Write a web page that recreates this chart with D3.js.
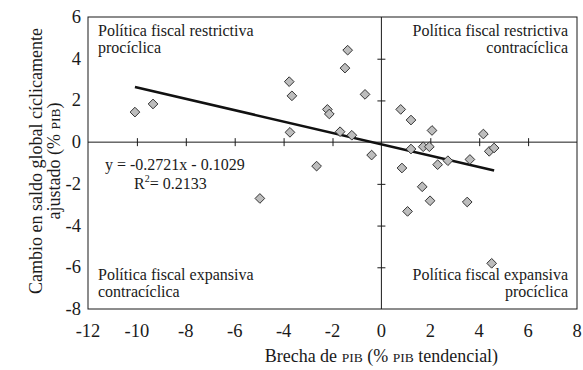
<!DOCTYPE html>
<html>
<head>
<meta charset="utf-8">
<script src="https://cdn.jsdelivr.net/npm/d3@7"></script>
<style>
  html, body { margin: 0; padding: 0; background: #fff; }
</style>
</head>
<body>
<div id="chart"></div>
<script>
// Brecha de PIB (x) vs. cambio en saldo global cíclicamente ajustado (y)
const gapValues = [
  -10.08, -9.34, -4.97, -3.77, -3.66, -3.74, -2.65, -2.21, -2.13, -1.69, -1.38, -1.49, -1.21, -0.67, -0.40,
  0.79, 1.21, 2.07, 4.17, 1.21, 1.71, 1.96, 4.41, 4.61, 0.84, 2.30, 2.72, 3.62, 1.67, 1.99, 3.51, 1.07, 4.51
];
const balanceValues = [
  1.44, 1.83, -2.70, 2.90, 2.22, 0.47, -1.15, 1.57, 1.35, 0.50, 4.41, 3.55, 0.33, 2.29, -0.62,
  1.57, 1.06, 0.56, 0.39, -0.33, -0.22, -0.22, -0.44, -0.28, -1.24, -1.08, -0.89, -0.83, -2.14, -2.81, -2.87, -3.32, -5.81
];

// Regression line y = slope * x + intercept
const slope = -0.2721;
const intercept = -0.1029;
const rSquared = 0.2133;

const xTicks = [-12, -10, -8, -6, -4, -2, 0, 2, 4, 6, 8];
const yTicks = [6, 4, 2, 0, -2, -4, -6, -8];

const quadrantLabels = [
  { lines: ["Política fiscal restrictiva", "procíclica"], corner: "tl" },
  { lines: ["Política fiscal restrictiva", "contracíclica"], corner: "tr" },
  { lines: ["Política fiscal expansiva", "contracíclica"], corner: "bl" },
  { lines: ["Política fiscal expansiva", "procíclica"], corner: "br" }
];

const W = 583, H = 370;
const margin = { left: 88, right: 6, top: 17, bottom: 61 };
const serif = "'Liberation Serif'";

const svg = d3.select("#chart").append("svg")
  .attr("width", W).attr("height", H);

const x = d3.scaleLinear().domain([-12, 8]).range([margin.left, W - margin.right]);
const y = d3.scaleLinear().domain([-8, 6]).range([H - margin.bottom, margin.top]);

const ink = "#1a1a1a";

// plot frame
svg.append("rect")
  .attr("x", x(-12)).attr("y", y(6))
  .attr("width", x(8) - x(-12)).attr("height", y(-8) - y(6))
  .attr("fill", "none").attr("stroke", ink).attr("stroke-width", 1);

// axes crossing at the origin, with ticks across the lines
const xAxis = d3.axisBottom(x).tickValues(xTicks.filter(v => v > -12 && v < 8 && v !== 0))
  .tickSize(8).tickFormat("");
svg.append("g").attr("transform", `translate(0,${y(0) - 4})`).call(xAxis)
  .call(g => g.select(".domain").remove())
  .call(g => g.selectAll("line").attr("stroke", ink));
svg.append("line")
  .attr("x1", x(-12)).attr("x2", x(8)).attr("y1", y(0)).attr("y2", y(0))
  .attr("stroke", ink).attr("stroke-width", 1);

const yAxis = d3.axisRight(y).tickValues(yTicks.filter(v => v > -8 && v < 6 && v !== 0))
  .tickSize(8).tickFormat("");
svg.append("g").attr("transform", `translate(${x(0) - 4},0)`).call(yAxis)
  .call(g => g.select(".domain").remove())
  .call(g => g.selectAll("line").attr("stroke", ink));
svg.append("line")
  .attr("x1", x(0)).attr("x2", x(0)).attr("y1", y(6)).attr("y2", y(-8))
  .attr("stroke", ink).attr("stroke-width", 1);

// tick labels outside the frame (plain hyphen for negatives)
svg.append("g").selectAll("text").data(xTicks).join("text")
  .attr("x", d => x(d)).attr("y", y(-8) + 28)
  .attr("text-anchor", "middle").attr("font-size", 18.5).attr("fill", ink)
  .style("font-family", serif)
  .text(d => String(d));
svg.append("g").selectAll("text").data(yTicks).join("text")
  .attr("x", x(-12) - 7).attr("y", d => y(d) + 6)
  .attr("text-anchor", "end").attr("font-size", 18.5).attr("fill", ink)
  .style("font-family", serif)
  .text(d => String(d));

// regression line over the data range
const [xMin, xMax] = d3.extent(gapValues);
svg.append("line")
  .attr("x1", x(xMin)).attr("y1", y(slope * xMin + intercept))
  .attr("x2", x(xMax)).attr("y2", y(slope * xMax + intercept))
  .attr("stroke", "#111").attr("stroke-width", 2.6);

// diamond markers
const diamond = d3.symbol().type(d3.symbolDiamond2).size(60);
svg.append("g").selectAll("path").data(gapValues.map((g, i) => [g, balanceValues[i]])).join("path")
  .attr("transform", d => `translate(${x(d[0])},${y(d[1])})`)
  .attr("d", diamond)
  .attr("fill", "#bdbdbd").attr("stroke", "#333").attr("stroke-width", 1);

// quadrant captions
const qFont = 16, qLead = 17;
quadrantLabels.forEach(q => {
  const right = q.corner.endsWith("r");
  const top = q.corner.startsWith("t");
  const tx = right ? x(8) - 9 : x(-12) + 10;
  const ty = top ? y(6) + 19 : y(-8) - 29;
  const t = svg.append("text")
    .attr("x", tx).attr("y", ty)
    .attr("text-anchor", right ? "end" : "start")
    .attr("font-size", qFont).attr("fill", ink).style("font-family", serif);
  q.lines.forEach((line, i) => {
    t.append("tspan").attr("x", tx).attr("dy", i === 0 ? 0 : qLead).text(line);
  });
});

// regression equation
svg.append("text")
  .attr("x", x(-12) + 17).attr("y", y(0) + 28)
  .attr("font-size", 16).attr("fill", ink).style("font-family", serif)
  .text(`y = ${slope.toFixed(4)}x - ${(-intercept).toFixed(4)}`);
const r2 = svg.append("text")
  .attr("x", x(-12) + 46).attr("y", y(0) + 47)
  .attr("font-size", 16).attr("fill", ink).style("font-family", serif);
r2.append("tspan").text("R");
r2.append("tspan").attr("font-size", 10).attr("dy", -7).text("2");
r2.append("tspan").attr("dy", 7).text("= " + rSquared.toFixed(4));

// axis titles
const xt = svg.append("text")
  .attr("x", x(0)).attr("y", H - 8)
  .attr("text-anchor", "middle").attr("font-size", 18).attr("fill", ink)
  .style("font-family", serif);
xt.append("tspan").text("Brecha de ");
xt.append("tspan").attr("font-size", 13.5).text("PIB");
xt.append("tspan").text(" (% ");
xt.append("tspan").attr("font-size", 13.5).text("PIB");
xt.append("tspan").text(" tendencial)");

const yc = (y(6) + y(-8)) / 2 - 2;
const yt = svg.append("text")
  .attr("transform", `translate(0,${yc}) rotate(-90)`)
  .attr("text-anchor", "middle").attr("font-size", 18).attr("fill", ink)
  .style("font-family", serif);
yt.append("tspan").attr("x", 0).attr("y", 42).text("Cambio en saldo global cíclicamente");
const yt2 = yt.append("tspan").attr("x", 0).attr("y", 60);
yt2.append("tspan").text("ajustado (% ");
yt2.append("tspan").attr("font-size", 13.5).text("PIB");
yt2.append("tspan").text(")");
</script>
</body>
</html>
